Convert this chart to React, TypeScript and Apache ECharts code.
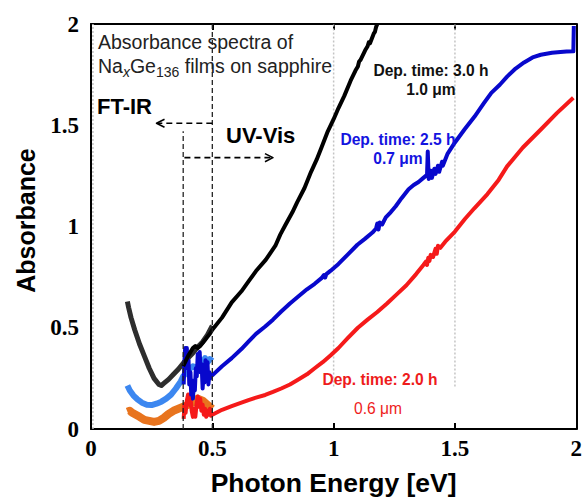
import React, { useEffect, useRef } from 'react';
import * as echarts from 'echarts';

// ---- Axis ticks ----
const xTicks = [0, 0.5, 1, 1.5, 2];
const yTicks = [0, 0.5, 1, 1.5, 2];

// ---- Dep. time 3.0 h (1.0 um) ----
const blackFTIR: number[][] = [
  [0.150, 0.63], [0.155, 0.60], [0.165, 0.55], [0.18, 0.49], [0.20, 0.42], [0.22, 0.36],
  [0.24, 0.30], [0.26, 0.25], [0.28, 0.22], [0.29, 0.215], [0.30, 0.225], [0.32, 0.245],
  [0.34, 0.27], [0.36, 0.295], [0.38, 0.325], [0.40, 0.35], [0.42, 0.375], [0.44, 0.405],
  [0.46, 0.43], [0.48, 0.465], [0.50, 0.51],
];
const blackUV: number[][] = [
  [0.38, 0.31], [0.39, 0.335], [0.40, 0.36], [0.41, 0.38], [0.42, 0.40], [0.43, 0.41],
  [0.44, 0.40], [0.45, 0.41], [0.46, 0.425], [0.47, 0.44], [0.48, 0.455], [0.49, 0.47],
  [0.50, 0.49], [0.54, 0.55], [0.58, 0.625], [0.62, 0.68], [0.65, 0.73], [0.68, 0.78],
  [0.72, 0.835], [0.76, 0.905], [0.78, 0.96], [0.80, 1.005], [0.83, 1.07], [0.85, 1.12],
  [0.88, 1.19], [0.907, 1.27], [0.93, 1.33], [0.95, 1.39], [0.976, 1.47], [1.00, 1.53],
  [1.02, 1.585], [1.044, 1.645], [1.07, 1.72], [1.09, 1.77], [1.10, 1.79], [1.105, 1.815],
  [1.111, 1.823], [1.13, 1.87], [1.14, 1.89], [1.145, 1.91], [1.15, 1.905], [1.166, 1.954],
  [1.17, 1.96], [1.175, 1.985], [1.18, 2.0],
];

// ---- Dep. time 2.5 h (0.7 um) ----
const blueFTIR: number[][] = [
  [0.15, 0.215], [0.16, 0.19], [0.175, 0.165], [0.19, 0.148], [0.21, 0.13], [0.23, 0.12],
  [0.25, 0.118], [0.27, 0.125], [0.29, 0.135], [0.31, 0.15], [0.33, 0.17], [0.35, 0.2],
  [0.37, 0.235], [0.38, 0.26], [0.40, 0.29], [0.42, 0.31], [0.44, 0.30], [0.45, 0.34],
  [0.46, 0.32], [0.47, 0.35], [0.48, 0.33], [0.49, 0.345], [0.50, 0.335],
];
const blueUV: number[][] = [
  [0.382, 0.22], [0.385, 0.33], [0.388, 0.40], [0.392, 0.36], [0.395, 0.40], [0.398, 0.30],
  [0.402, 0.34], [0.405, 0.22], [0.41, 0.28], [0.413, 0.17], [0.417, 0.24], [0.42, 0.15],
  [0.424, 0.22], [0.428, 0.19], [0.432, 0.30], [0.436, 0.26], [0.44, 0.37], [0.444, 0.33],
  [0.448, 0.38], [0.452, 0.28], [0.456, 0.32], [0.46, 0.20], [0.464, 0.27], [0.468, 0.23],
  [0.472, 0.34], [0.476, 0.29], [0.48, 0.33], [0.484, 0.22], [0.488, 0.28], [0.492, 0.25],
  [0.496, 0.27], [0.50, 0.265], [0.54, 0.31], [0.58, 0.35], [0.62, 0.395], [0.649, 0.432],
  [0.68, 0.47], [0.718, 0.506], [0.75, 0.54], [0.784, 0.58], [0.82, 0.62], [0.853, 0.653],
  [0.89, 0.69], [0.922, 0.717], [0.95, 0.745], [0.96, 0.76], [0.965, 0.748], [0.97, 0.765],
  [0.988, 0.782], [1.02, 0.815], [1.057, 0.86], [1.098, 0.91], [1.13, 0.94], [1.16, 0.97],
  [1.175, 0.99], [1.18, 1.015], [1.185, 0.985], [1.19, 1.02], [1.2, 1.01], [1.215, 1.045],
  [1.235, 1.07], [1.256, 1.10], [1.28, 1.14], [1.309, 1.184], [1.33, 1.205], [1.35, 1.22],
  [1.37, 1.24], [1.385, 1.255], [1.388, 1.37], [1.392, 1.235], [1.40, 1.275], [1.405, 1.24],
  [1.415, 1.285], [1.42, 1.26], [1.43, 1.30], [1.435, 1.27], [1.447, 1.32], [1.45, 1.30],
  [1.47, 1.36], [1.50, 1.415], [1.54, 1.48], [1.581, 1.543], [1.62, 1.61], [1.65, 1.66],
  [1.685, 1.70], [1.715, 1.74], [1.75, 1.78], [1.785, 1.81], [1.82, 1.835], [1.854, 1.848],
  [1.90, 1.858], [1.935, 1.862], [1.96, 1.864], [1.988, 1.865], [1.99, 1.99],
];

// ---- Dep. time 2.0 h (0.6 um) ----
const redFTIR: number[][] = [
  [0.15, 0.085], [0.16, 0.09], [0.17, 0.08], [0.185, 0.07], [0.20, 0.06], [0.22, 0.045],
  [0.24, 0.04], [0.26, 0.035], [0.28, 0.04], [0.30, 0.055], [0.32, 0.075], [0.34, 0.09],
  [0.36, 0.1], [0.38, 0.11], [0.40, 0.12], [0.42, 0.13], [0.44, 0.15], [0.46, 0.14],
  [0.48, 0.12], [0.50, 0.10],
];
const redUV: number[][] = [
  [0.382, 0.05], [0.385, 0.12], [0.39, 0.08], [0.395, 0.14], [0.40, 0.17], [0.405, 0.12],
  [0.41, 0.16], [0.415, 0.09], [0.42, 0.06], [0.425, 0.1], [0.43, 0.06], [0.435, 0.12],
  [0.44, 0.16], [0.445, 0.11], [0.45, 0.15], [0.455, 0.09], [0.46, 0.12], [0.465, 0.07],
  [0.47, 0.1], [0.475, 0.06], [0.48, 0.09], [0.485, 0.07], [0.49, 0.1], [0.495, 0.065],
  [0.50, 0.07], [0.54, 0.095], [0.58, 0.113], [0.62, 0.13], [0.649, 0.143], [0.68, 0.155],
  [0.718, 0.168], [0.75, 0.183], [0.784, 0.20], [0.82, 0.22], [0.853, 0.243], [0.89, 0.27],
  [0.922, 0.30], [0.955, 0.33], [0.988, 0.364], [1.02, 0.40], [1.057, 0.447], [1.10, 0.50],
  [1.14, 0.54], [1.18, 0.578], [1.22, 0.62], [1.26, 0.665], [1.30, 0.71], [1.34, 0.765],
  [1.37, 0.81], [1.38, 0.826], [1.385, 0.81], [1.39, 0.845], [1.395, 0.83], [1.40, 0.86],
  [1.41, 0.85], [1.42, 0.89], [1.425, 0.865], [1.43, 0.905], [1.44, 0.895], [1.46, 0.925],
  [1.50, 0.975], [1.541, 1.037], [1.58, 1.09], [1.634, 1.16], [1.68, 1.23], [1.715, 1.297],
  [1.78, 1.39], [1.854, 1.479], [1.92, 1.56], [1.988, 1.636],
];

// ---- Annotation guides (data coordinates) ----
const boundaryUV: number[][] = [[0.5, 0], [0.5, 2]];
const boundaryIR: number[][] = [[0.38, 0], [0.38, 1.47]];
const ftirArrow: number[][] = [[0.5, 1.51], [0.272, 1.51]];
const ftirHead: number[][] = [[0.303, 1.53], [0.27, 1.51], [0.303, 1.49]];
const uvArrow: number[][] = [[0.385, 1.34], [0.748, 1.34]];
const uvHead: number[][] = [[0.717, 1.36], [0.75, 1.34], [0.717, 1.32]];
const grid0: number[][] = [[0.008, 0], [0.008, 2]];
const grid1: number[][] = [[1.0, 0.21], [1.0, 2]];
const grid15: number[][] = [[1.5, 0.21], [1.5, 2]];

const C = {
  black: '#000000',
  gray: '#2e2e2e',
  lightBlue: '#3c87f0',
  blue: '#0808cc',
  orange: '#e8741e',
  red: '#f51a1a',
};

const SANS = 'Liberation Sans';
const SERIF = 'Liberation Serif';

function lineSeries(data: number[][], color: string, width: number, z: number, type: any = 'solid') {
  return {
    type: 'line',
    data,
    showSymbol: false,
    symbol: 'none',
    silent: true,
    z,
    lineStyle: { color, width, type, cap: 'butt', join: 'round' },
  };
}

export default function App() {
  const ref = useRef<HTMLDivElement>(null);
  useEffect(() => {
    const chart = echarts.init(ref.current!, null, { renderer: 'svg' });
    const axisLine = { show: true, onZero: false, lineStyle: { color: '#000', width: 2 } };
    const tickLabel = {
      fontFamily: SERIF,
      fontWeight: 'bold',
      fontSize: 23,
      color: '#000',
    };
    const option: any = {
      animation: false,
      backgroundColor: '#fff',
      grid: { left: 91, right: 3, top: 24, bottom: 71, containLabel: false },
      xAxis: [
        {
          type: 'value',
          min: xTicks[0],
          max: xTicks[xTicks.length - 1],
          interval: 0.5,
          position: 'bottom',
          axisLine,
          axisTick: { show: true, inside: true, length: 6, lineStyle: { color: '#000', width: 2 } },
          axisLabel: { ...tickLabel, margin: 8, formatter: (v: number) => String(v) },
          splitLine: { show: false },
          name: 'Photon Energy [eV]',
          nameLocation: 'middle',
          nameGap: 40,
          nameTextStyle: { fontFamily: SANS, fontWeight: 'bold', fontSize: 26.5, color: '#000' },
        },
        {
          type: 'value',
          min: xTicks[0],
          max: xTicks[xTicks.length - 1],
          interval: 0.5,
          position: 'top',
          axisLine,
          axisTick: { show: true, inside: true, length: 6, lineStyle: { color: '#000', width: 2 } },
          axisLabel: { show: false },
          splitLine: { show: false },
        },
      ],
      yAxis: [
        {
          type: 'value',
          min: yTicks[0],
          max: yTicks[yTicks.length - 1],
          interval: 0.5,
          position: 'left',
          axisLine,
          axisTick: { show: false },
          axisLabel: { ...tickLabel, margin: 12, formatter: (v: number) => String(v) },
          splitLine: { show: false },
          name: 'Absorbance',
          nameLocation: 'middle',
          nameGap: 53,
          nameTextStyle: { fontFamily: SANS, fontWeight: 'bold', fontSize: 25, color: '#000', padding: [0, 0, 0, 12] },
        },
        {
          type: 'value',
          min: yTicks[0],
          max: yTicks[yTicks.length - 1],
          interval: 0.5,
          position: 'right',
          axisLine,
          axisTick: { show: false },
          axisLabel: { show: false },
          splitLine: { show: false },
        },
      ],
      series: [
        lineSeries(grid0, '#c4c4c4', 1.5, 1, [2, 2]),
        lineSeries(grid1, '#c4c4c4', 1.5, 1, [2, 2]),
        lineSeries(grid15, '#c4c4c4', 1.5, 1, [2, 2]),
        lineSeries(redFTIR, C.orange, 8, 2),
        lineSeries(blueFTIR, C.lightBlue, 6, 2),
        lineSeries(blackFTIR, C.gray, 5, 2),
        lineSeries(redUV, C.red, 4, 3),
        lineSeries(blueUV, C.blue, 4, 3),
        lineSeries(blackUV, C.black, 4, 4),
        lineSeries(boundaryUV, '#222', 1.3, 5, [5, 3]),
        lineSeries(boundaryIR, '#222', 1.3, 5, [5, 3]),
        lineSeries(ftirArrow, '#000', 1.6, 5, [6, 4]),
        lineSeries(ftirHead, '#000', 1.6, 5),
        lineSeries(uvArrow, '#000', 1.6, 5, [6, 4]),
        lineSeries(uvHead, '#000', 1.6, 5),
      ],
      graphic: [
        {
          type: 'text', left: 98, top: 32, z: 10,
          style: { text: 'Absorbance spectra of', font: `19.5px ${SANS}`, fill: '#222' },
        },
        {
          type: 'text', left: 98, top: 56, z: 10,
          style: {
            text: '{n|Na}{i|x}{n|Ge}{s|136}{n| films on sapphire}',
            rich: {
              n: { fontFamily: SANS, fontSize: 19.5, fill: '#222', lineHeight: 26, verticalAlign: 'middle' },
              i: { fontFamily: SANS, fontStyle: 'italic', fontSize: 14, fill: '#222', lineHeight: 15, verticalAlign: 'bottom' },
              s: { fontFamily: SANS, fontSize: 14, fill: '#222', lineHeight: 15, verticalAlign: 'bottom' },
            },
          },
        },
        {
          type: 'text', left: 97, top: 95, z: 10,
          style: { text: 'FT-IR', font: `bold 22px ${SANS}`, fill: '#000' },
        },
        {
          type: 'text', left: 226, top: 124, z: 10,
          style: { text: 'UV-Vis', font: `bold 22px ${SANS}`, fill: '#000' },
        },
        {
          type: 'text', x: 431, y: 70, z: 10,
          style: { text: 'Dep. time: 3.0 h', font: `bold 15.6px ${SANS}`, fill: '#111', align: 'center', verticalAlign: 'middle' },
        },
        {
          type: 'text', x: 431, y: 89, z: 10,
          style: { text: '1.0 μm', font: `bold 15.6px ${SANS}`, fill: '#111', align: 'center', verticalAlign: 'middle' },
        },
        {
          type: 'text', x: 398, y: 139, z: 10,
          style: { text: 'Dep. time: 2.5 h', font: `bold 15.6px ${SANS}`, fill: '#1414e0', align: 'center', verticalAlign: 'middle' },
        },
        {
          type: 'text', x: 398, y: 158, z: 10,
          style: { text: '0.7 μm', font: `bold 15.6px ${SANS}`, fill: '#1414e0', align: 'center', verticalAlign: 'middle' },
        },
        {
          type: 'text', x: 380, y: 379, z: 10,
          style: { text: 'Dep. time: 2.0 h', font: `bold 15.6px ${SANS}`, fill: '#ee1c1c', align: 'center', verticalAlign: 'middle' },
        },
        {
          type: 'text', x: 378, y: 408, z: 10,
          style: { text: '0.6 μm', font: `15.6px ${SANS}`, fill: '#ee1c1c', align: 'center', verticalAlign: 'middle' },
        },
      ],
    };
    chart.setOption(option);
    return () => chart.dispose();
  }, []);
  return <div ref={ref} style={{ position: 'absolute', left: 0, top: 0, width: 585, height: 501 }} />;
}
